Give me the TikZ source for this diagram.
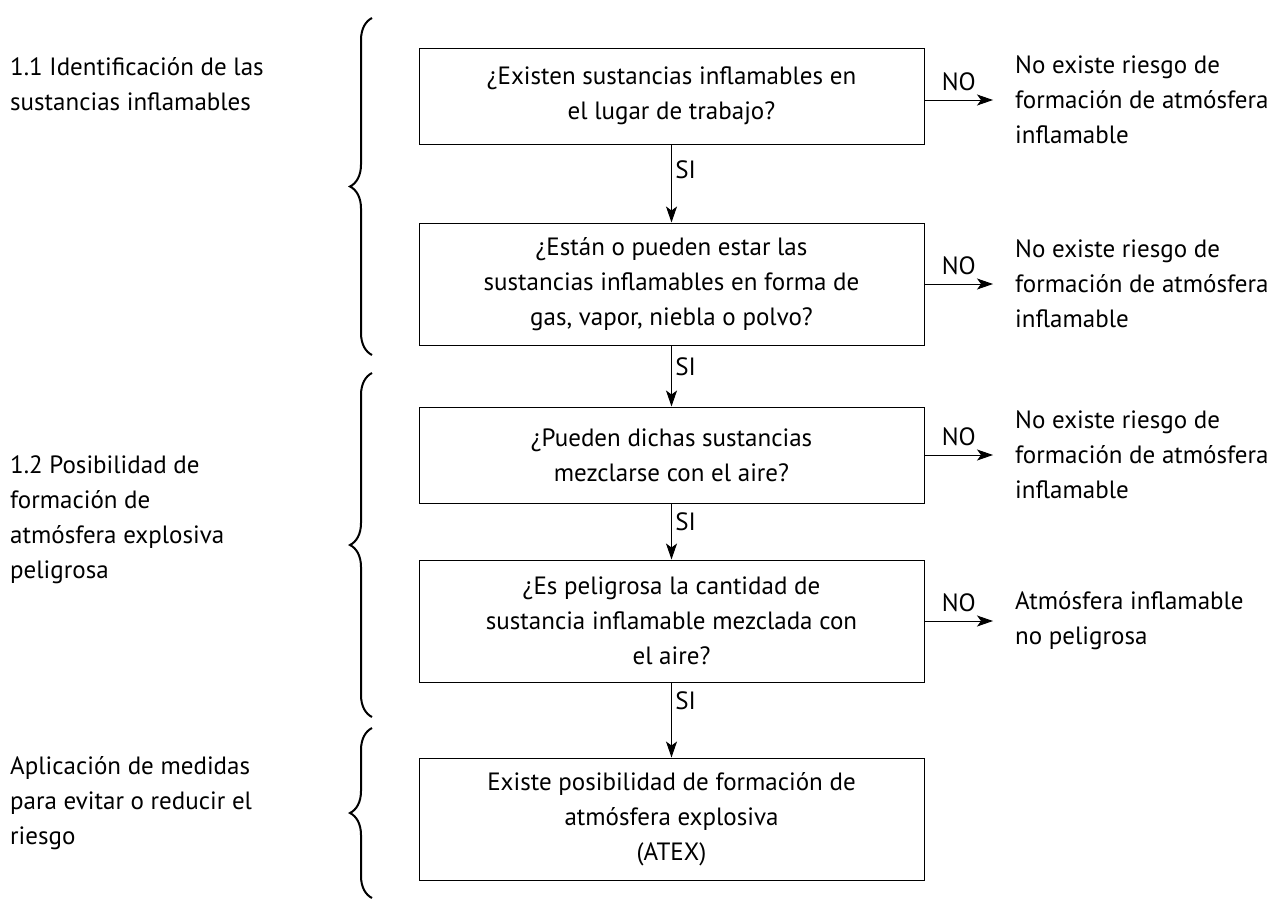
\documentclass[tikz,border=0pt]{standalone}
\usepackage{fontspec}
\setmainfont{PT Sans}
\usetikzlibrary{arrows.meta,decorations.pathreplacing}

\tikzset{
  pregunta/.style={draw, line width=1pt, minimum width=505pt, align=center,
    font=\fontsize{25}{35}\selectfont},
  respuesta/.style={anchor=west, align=left, inner xsep=22pt,
    font=\fontsize{25}{35}\selectfont},
  etapa/.style={anchor=west, align=left, inner sep=0pt,
    font=\fontsize{25}{35}\selectfont},
  flecha/.style={line width=1pt, -{Stealth[length=16pt,width=11pt,inset=4pt]}},
  rotulo/.style={font=\fontsize{25}{28}\selectfont},
  llave/.style={decorate, decoration={brace, amplitude=22pt}, line width=2pt}
}

\begin{document}
\begin{tikzpicture}[x=1pt, y=-1pt]
\useasboundingbox (0,0) rectangle (1284,902);

% preguntas
\node[pregunta, minimum height=96pt]  (p1) at (671.5,96)  {¿Existen sustancias inflamables en\\el lugar de trabajo?};
\node[pregunta, minimum height=122pt] (p2) at (671.5,284) {¿Están o pueden estar las\\sustancias inflamables en forma de\\gas, vapor, niebla o polvo?};
\node[pregunta, minimum height=96pt]  (p3) at (671.5,455) {¿Pueden dichas sustancias\\mezclarse con el aire?};
\node[pregunta, minimum height=122pt] (p4) at (671.5,621) {¿Es peligrosa la cantidad de\\sustancia inflamable mezclada con\\el aire?};
\node[pregunta, minimum height=122pt] (p5) at (671.5,819) {Existe posibilidad de formación de\\atmósfera explosiva\\(ATEX)};

% respuestas
\node[respuesta] (r1) at (993,100) {No existe riesgo de\\formación de atmósfera\\inflamable};
\node[respuesta] (r2) at (993,284) {No existe riesgo de\\formación de atmósfera\\inflamable};
\node[respuesta] (r3) at (993,455) {No existe riesgo de\\formación de atmósfera\\inflamable};
\node[respuesta] (r4) at (993,621) {Atmósfera inflamable\\no peligrosa};

% SI
\draw[flecha] (p1) -- node[rotulo, pos=0.33, right] {SI} (p2);
\draw[flecha] (p2) -- node[rotulo, pos=0.35, right] {SI} (p3);
\draw[flecha] (p3) -- node[rotulo, pos=0.33, right] {SI} (p4);
\draw[flecha] (p4) -- node[rotulo, pos=0.24, right] {SI} (p5);

% NO
\draw[flecha] (p1.east |- r1.west) -- node[rotulo, above=5pt] {NO} (r1.west);
\draw[flecha] (p2.east) -- node[rotulo, above=5pt] {NO} (r2.west);
\draw[flecha] (p3.east) -- node[rotulo, above=5pt] {NO} (r3.west);
\draw[flecha] (p4.east) -- node[rotulo, above=5pt] {NO} (r4.west);

% etapas
\node[etapa] (e1) at (10,84)  {1.1 Identificación de las\\sustancias inflamables};
\node[etapa] (e2) at (10,520) {1.2 Posibilidad de\\formación de\\atmósfera explosiva\\peligrosa};
\node[etapa] (e3) at (10,803) {Aplicación de medidas\\para evitar o reducir el\\riesgo};

\draw[llave] (372,355) -- (372,18);
\draw[llave] (372,717) -- (372,373);
\draw[llave] (372,898) -- (372,728);
\end{tikzpicture}
\end{document}
